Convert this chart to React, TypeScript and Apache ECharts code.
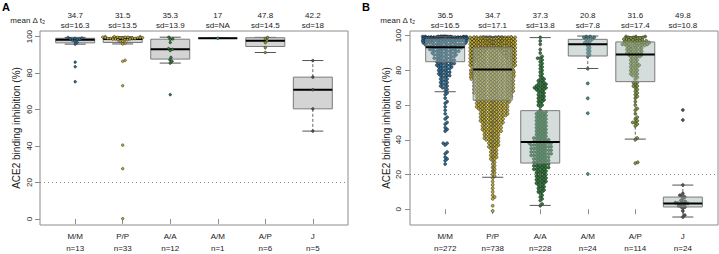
import React, { useEffect, useRef } from 'react';
import * as echarts from 'echarts';

const FONT = '"Liberation Sans", Arial, Helvetica, sans-serif';

const CATS = ['M/M', 'P/P', 'A/A', 'A/M', 'A/P', 'J'];
const N_A = [13, 33, 12, 1, 6, 5];
const N_B = [272, 738, 228, 24, 114, 24];
const MEAN_A = ['34.7', '31.5', '35.3', '17', '47.8', '42.2'];
const SD_A = ['16.3', '13.5', '13.9', 'NA', '14.5', '18'];
const MEAN_B = ['36.5', '34.7', '37.3', '20.8', '31.6', '49.8'];
const SD_B = ['16.5', '17.1', '13.8', '7.8', '17.4', '10.8'];
const Y_TICKS = [0, 20, 40, 60, 80, 100];
const CAT_POS = [1, 2, 3, 4, 5, 6];
const CUTOFF = 20;

// box stats: [lower whisker, Q1, median, Q3, upper whisker]
const BOX_A = [
  [95.9, 96.6, 98.3, 99.1, 99.6],
  [96.0, 96.8, 98.7, 99.5, 100.0],
  [85.5, 87.7, 93.1, 98.6, 99.7],
  [99.1, 99.1, 99.1, 99.1, 99.1],
  [91.3, 94.6, 97.8, 99.4, 99.6],
  [48.2, 60.4, 70.9, 77.8, 86.9],
];
const BOX_B = [
  [67.7, 85.0, 93.3, 98.0, 99.5],
  [18.4, 62.8, 80.5, 93.0, 99.5],
  [2.2, 26.6, 38.7, 56.8, 98.9],
  [81.1, 88.3, 95.0, 97.9, 99.8],
  [40.4, 73.5, 89.1, 96.4, 99.5],
  [-4.5, 1.3, 3.3, 7.0, 13.9],
];

// panel A individual values
const A_MM = [99.5, 99.2, 99.0, 98.8, 98.5, 98.3, 98.0, 97.5, 96.8, 95.9, 86.0, 83.5, 75.3];
const A_PP = [100, 100, 100, 99.7, 99.7, 99.7, 99.7, 99.4, 99.4, 99.4, 99.4, 99.4, 99.0, 99.0, 99.0, 99.0, 99.0,
  98.7, 98.7, 98.7, 98.3, 98.3, 98.3, 97.5, 97.5, 96.5, 96.0, 87.0, 86.5, 73.1, 40.5, 27.6, 0.2];
const A_AA = [99.7, 98.8, 98.5, 96.8, 93.5, 93.1, 92.4, 88.6, 87.3, 86.5, 85.5, 68.2];
const A_AM = [99.1];
const A_AP = [99.6, 98.9, 97.8, 96.7, 94.0, 91.3];
const A_J = [86.9, 77.8, 70.9, 60.4, 48.2];

// panel B values as [value, count]
const B_MM = [[99.5, 14], [99, 34], [98.5, 30], [98, 18], [97.5, 15], [97, 12], [96, 10], [95, 10], [94, 8],
  [93, 8], [92, 7], [91, 7], [90, 6], [89, 6], [88, 5], [87, 5], [86, 5], [85, 4],
  [84, 5], [83, 4], [82, 4], [81, 3], [80, 3], [79, 3], [78, 3], [77, 3], [76, 2], [75, 2], [74, 2], [73, 2], [72, 2], [71, 2], [70, 2], [69, 1], [68, 1], [67, 1],
  [66, 1], [64, 1], [62, 1], [61, 1], [59, 1], [57, 1], [55, 1], [53, 1], [52, 1], [50, 1], [49, 1], [47, 1], [46, 1], [45, 1],
  [38, 2], [37, 1], [33, 1], [32, 1], [30, 1], [29, 1], [28, 1], [26, 1]];
const B_PP = [[99, 30], [98, 30], [97, 28], [96, 26], [95, 24], [94, 24], [93, 22],
  [92, 19], [91, 18], [90, 17], [89, 16], [88, 16], [87, 15], [86, 14], [85, 14], [84, 13], [83, 12], [82, 11], [81, 10],
  [80, 12], [79, 12], [78, 12], [77, 12], [76, 11], [75, 11], [74, 10], [73, 10], [72, 10], [71, 10], [70, 10], [69, 10], [68, 10], [67, 10], [66, 9], [65, 9], [64, 9], [63, 8],
  [62, 9], [61, 8], [60, 8], [59, 8], [58, 8], [57, 7], [56, 7], [55, 7], [54, 7], [53, 6], [52, 6], [51, 6], [50, 6],
  [49, 5], [48, 5], [47, 5], [46, 5], [45, 5], [44, 4], [43, 4], [42, 4], [41, 4], [40, 4], [39, 3], [38, 3], [37, 3],
  [36, 3], [35, 2], [34, 2], [33, 2], [32, 2], [31, 2], [30, 2], [29, 2], [28, 1], [27, 1],
  [26, 1], [25, 1], [24, 1], [23, 1], [22, 1], [21, 1], [20, 1], [19, 1],
  [18, 1], [16, 1], [14, 1], [12, 1], [10, 1], [8, 1], [7, 1], [6, 1], [2, 1], [-1, 1]];
const B_AA = [[99, 1], [97, 1], [95, 1], [92, 1], [90, 1], [88, 1], [87, 2], [86, 1], [85, 1], [84, 1], [83, 1], [82, 1], [81, 1], [80, 1], [79, 1], [78, 1], [77, 1], [76, 1],
  [75, 2], [74, 2], [73, 2], [72, 3], [71, 3], [70, 4], [69, 3], [68, 2], [67, 2], [66, 2], [65, 2], [64, 2], [63, 2], [62, 2], [61, 1], [60, 2], [59, 1], [57, 1],
  [56, 3], [55, 3], [54, 3], [53, 3], [52, 3], [51, 3], [50, 3], [49, 3], [48, 3], [47, 3], [46, 3], [45, 3], [44, 3], [43, 3], [42, 3], [41, 4], [40, 4], [39, 4],
  [38, 6], [37, 5], [36, 5], [35, 5], [34, 5], [33, 5], [32, 5], [31, 5], [30, 4], [29, 4], [28, 4], [27, 4],
  [26, 4], [25, 4], [24, 4], [23, 4], [22, 3], [21, 3], [20, 3], [19, 3], [18, 3], [17, 3], [16, 3], [15, 3], [14, 2], [13, 2], [12, 2], [11, 2], [10, 2], [9, 1], [8, 1], [7, 1], [6, 1], [5, 1], [3, 1], [2, 1]];
const B_AM = [[99.5, 2], [99, 2], [98.5, 1], [98, 2], [97, 2], [96, 1], [95.5, 1], [95, 1], [94, 1], [93, 1], [92, 1], [91, 1], [90, 1], [89, 1], [88, 1], [81, 1],
  [72.5, 1], [63.9, 1], [55.3, 1], [20.3, 1]];
const B_AP = [[99.5, 3], [99, 3], [98.5, 3], [98, 3], [97.5, 3], [97, 3], [96.5, 3],
  [96, 4], [95.5, 3], [95, 4], [94.5, 3], [94, 4], [93, 4], [92, 4], [91, 4], [90, 4], [89, 4],
  [88, 3], [87, 2], [86, 2], [85, 2], [84, 2], [83, 3], [82, 2], [81, 2], [80, 2], [79, 2], [78, 2], [77, 2], [76, 1], [75, 1],
  [73, 2], [72, 1], [71, 2], [70, 1], [69, 1], [68, 1], [67, 1], [66, 1], [65, 1], [64, 1], [62, 1], [60, 1], [58, 1], [57, 1], [55, 1], [53, 1], [52, 1], [51, 1], [50, 2], [49, 1], [48, 1], [41, 1], [40, 1], [27, 1], [26.5, 1]];
const B_J = [[57.2, 1], [51.4, 1], [13.9, 1], [9, 1], [8, 1], [7.5, 1], [7, 1], [6, 1], [5, 1], [4.5, 1], [4, 1], [3.8, 1], [3.5, 1], [3.3, 1], [3, 2], [2.5, 1], [2, 1], [1.5, 1], [1.3, 1], [0.5, 1], [-1, 1], [-3.5, 1], [-4.5, 1]];

const COLORS = ['#2a6d99', '#c2ae35', '#2b8038', '#3a959c', '#849f30', '#555555'];

const X_MIN = 0.26;
const X_MAX = 6.74;

const expand = (pairs: number[][]) => {
  const out: number[] = [];
  pairs.forEach(([v, c]) => { for (let k = 0; k < c; k++) out.push(v); });
  return out;
};

function swarm(values: number[], d: number, yPx: number, half: number): number[] {
  const idx = values.map((_, i) => i).sort((a, b) => values[a] - values[b]);
  const placed: { x: number; y: number }[] = [];
  const out = new Array(values.length).fill(0);
  for (const i of idx) {
    const y = values[i] * yPx;
    const near = placed.filter((p) => Math.abs(p.y - y) < d);
    const cands = [0];
    for (const p of near) {
      const dx = Math.sqrt(d * d - (p.y - y) * (p.y - y));
      cands.push(p.x + dx, p.x - dx);
    }
    cands.sort((a, b) => Math.abs(a) - Math.abs(b));
    let best = 0;
    for (const c of cands) {
      let ok = true;
      for (const p of near) {
        if ((p.x - c) * (p.x - c) + (p.y - y) * (p.y - y) < d * d - 1e-6) { ok = false; break; }
      }
      if (ok) { best = c; break; }
    }
    placed.push({ x: best, y });
    let w = best;
    if (Math.abs(w) > half) w = ((((w + half) % (2 * half)) + 2 * half) % (2 * half)) - half;
    out[i] = w;
  }
  return out;
}

const PANELS = [
  {
    grid: { left: 40, top: 31, width: 308, height: 195 },
    yMin: -3.3, yMax: 103.1, n: N_A, mean: MEAN_A, sd: SD_A, box: BOX_A,
    groups: [A_MM, A_PP, A_AA, A_AM, A_AP, A_J],
    d: 2.6, sym: 2.6, half: 20, boxFill: '#d4d4d4', boxZ: 1, labelMargin: 7,
  },
  {
    grid: { left: 410, top: 31, width: 308, height: 196 },
    yMin: -9.1, yMax: 102.7, n: N_B, mean: MEAN_B, sd: SD_B, box: BOX_B,
    groups: [B_MM, B_PP, B_AA, B_AM, B_AP, B_J].map(expand),
    d: 2.6, sym: 3, half: 22.5, boxFill: 'rgba(160,180,176,0.45)', boxZ: 3, labelMargin: 8,
  },
];

const BOX_W = 0.82;

function buildOption() {
  const grids: any[] = [];
  const xAxes: any[] = [];
  const yAxes: any[] = [];
  const series: any[] = [];
  const txt = { fontFamily: FONT, color: '#222' };

  PANELS.forEach((P, p) => {
    grids.push({ ...P.grid, show: true, borderColor: '#8c8c8c', borderWidth: 1, backgroundColor: 'transparent' });
    xAxes.push({
      type: 'value', gridIndex: p, min: X_MIN, max: X_MAX, position: 'bottom',
      axisLine: { show: false }, splitLine: { show: false },
      axisTick: { show: true, customValues: CAT_POS, length: 5, inside: false, lineStyle: { color: '#8c8c8c' } },
      axisLabel: {
        customValues: CAT_POS, ...txt, fontSize: 8, lineHeight: 12, margin: 5,
        formatter: (v: number) => { const i = Math.round(v) - 1; return `${CATS[i]}\nn=${P.n[i]}`; },
      },
    });
    xAxes.push({
      type: 'value', gridIndex: p, min: X_MIN, max: X_MAX, position: 'top',
      axisLine: { show: false }, splitLine: { show: false }, axisTick: { show: false },
      axisLabel: {
        customValues: CAT_POS, ...txt, fontSize: 8, lineHeight: 10, margin: 1,
        formatter: (v: number) => { const i = Math.round(v) - 1; return `${P.mean[i]}\nsd=${P.sd[i]}`; },
      },
    });
    yAxes.push({
      type: 'value', gridIndex: p, min: P.yMin, max: P.yMax,
      axisLine: { show: false }, splitLine: { show: false },
      axisTick: { show: true, customValues: Y_TICKS, length: 5, lineStyle: { color: '#8c8c8c' } },
      axisLabel: { customValues: Y_TICKS, rotate: 90, ...txt, fontSize: 8, margin: P.labelMargin },
      name: 'ACE2 binding inhibition (%)', nameLocation: 'middle', nameGap: 19, nameRotate: 90,
      nameTextStyle: { fontFamily: FONT, color: '#222', fontSize: 10 },
    });

    const xPx = P.grid.width / (X_MAX - X_MIN);
    const yPx = P.grid.height / (P.yMax - P.yMin);

    P.groups.forEach((vals, g) => {
      const offs = swarm(vals, P.d, yPx, P.half);
      series.push({
        type: 'scatter', xAxisIndex: 2 * p, yAxisIndex: p, symbol: 'circle', symbolSize: P.sym,
        silent: true, z: 2,
        itemStyle: { color: COLORS[g], borderColor: '#1a1a1a', borderWidth: 0.5, opacity: 1 },
        data: vals.map((v, k) => [g + 1 + offs[k] / xPx, v]),
        markLine: g === 0 ? {
          silent: true, symbol: 'none', label: { show: false },
          lineStyle: { type: [1, 3], color: '#888', width: 1 },
          data: [{ yAxis: CUTOFF }],
        } : undefined,
      });
    });

    series.push({
      type: 'custom', xAxisIndex: 2 * p, yAxisIndex: p, z: P.boxZ, silent: true,
      data: P.box.map((b, i) => [i + 1, ...b]),
      encode: { x: 0, y: [1, 2, 3, 4, 5] },
      renderItem: (params: any, api: any) => {
        const x = api.value(0);
        const c = (v: number) => api.coord([x, v]);
        const [cx, yLo] = c(api.value(1));
        const yQ1 = c(api.value(2))[1];
        const yMd = c(api.value(3))[1];
        const yQ3 = c(api.value(4))[1];
        const yHi = c(api.value(5))[1];
        const hw = api.size([BOX_W, 0])[0] / 2;
        const ch = hw * 0.54;
        const wh = { stroke: '#666', lineWidth: 1, lineDash: [3, 2] };
        const cap = { stroke: '#555', lineWidth: 1 };
        return {
          type: 'group',
          children: [
            { type: 'line', shape: { x1: cx, y1: yQ3, x2: cx, y2: yHi }, style: wh },
            { type: 'line', shape: { x1: cx, y1: yQ1, x2: cx, y2: yLo }, style: wh },
            { type: 'line', shape: { x1: cx - ch, y1: yHi, x2: cx + ch, y2: yHi }, style: cap },
            { type: 'line', shape: { x1: cx - ch, y1: yLo, x2: cx + ch, y2: yLo }, style: cap },
            { type: 'rect', shape: { x: cx - hw, y: yQ3, width: 2 * hw, height: yQ1 - yQ3 }, style: { fill: P.boxFill, stroke: '#7a7a7a', lineWidth: 1 } },
            { type: 'line', shape: { x1: cx - hw, y1: yMd, x2: cx + hw, y2: yMd }, style: { stroke: '#000', lineWidth: 2 } },
          ],
        };
      },
    });
  });

  const graphic = [
    { type: 'text', x: 2, y: 1, style: { text: 'A', fontFamily: FONT, fontSize: 11, fontWeight: 'bold', fill: '#000' } },
    { type: 'text', x: 362, y: 1, style: { text: 'B', fontFamily: FONT, fontSize: 11, fontWeight: 'bold', fill: '#000' } },
    { type: 'text', x: 45, y: 20, style: { text: 'mean Δ t₂', fontFamily: FONT, fontSize: 8, fill: '#222', align: 'right', verticalAlign: 'middle', textAlign: 'right', textVerticalAlign: 'middle' } },
    { type: 'text', x: 415, y: 20, style: { text: 'mean Δ t₂', fontFamily: FONT, fontSize: 8, fill: '#222', align: 'right', verticalAlign: 'middle', textAlign: 'right', textVerticalAlign: 'middle' } },
  ];

  return {
    animation: false,
    backgroundColor: '#fff',
    textStyle: { fontFamily: FONT },
    grid: grids,
    xAxis: xAxes,
    yAxis: yAxes,
    series,
    graphic,
  };
}

export default function App() {
  const ref = useRef<HTMLDivElement>(null);
  useEffect(() => {
    const chart = echarts.init(ref.current!, null, { renderer: 'svg' });
    chart.setOption(buildOption() as any);
    return () => chart.dispose();
  }, []);
  return <div ref={ref} style={{ position: 'absolute', left: 0, top: 0, width: 719, height: 254, background: '#fff' }} />;
}
